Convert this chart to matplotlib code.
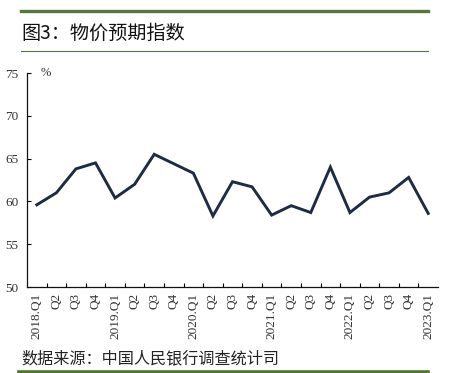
import matplotlib

matplotlib.use("Agg")
import matplotlib.pyplot as plt  # noqa: E402
from matplotlib.lines import Line2D  # noqa: E402

# price expectation index, quarterly
quarters = ["2018.Q1", "Q2", "Q3", "Q4",
            "2019.Q1", "Q2", "Q3", "Q4",
            "2020.Q1", "Q2", "Q3", "Q4",
            "2021.Q1", "Q2", "Q3", "Q4",
            "2022.Q1", "Q2", "Q3", "Q4",
            "2023.Q1"]
index_values = [59.6, 61.0, 63.8, 64.5,
                60.4, 62.0, 65.5, 64.4,
                63.3, 58.3, 62.3, 61.7,
                58.4, 59.5, 58.7, 64.0,
                58.7, 60.5, 61.0, 62.8,
                58.6]
y_ticks = [50, 55, 60, 65, 70, 75]

title_text = "图3：物价预期指数"
source_text = "数据来源：中国人民银行调查统计司"

W, H = 449, 373
CJK = ["Noto Sans CJK SC", "DejaVu Sans"]
SERIF = "Liberation Serif"
GREEN = "#56773c"
LINE_COLOR = "#1e2b44"

fig = plt.figure(figsize=(W / 100, H / 100), dpi=100)


def fx(px):
    return px / W


def fy(py):
    return 1 - py / H


# decorative frame lines of the report figure
fig.add_artist(Line2D([fx(21), fx(428)], [fy(10.5), fy(10.5)], color=GREEN,
                      linewidth=2.4, transform=fig.transFigure))
fig.add_artist(Line2D([fx(21), fx(428)], [fy(51), fy(51)], color=GREEN,
                      linewidth=0.8, transform=fig.transFigure))
fig.add_artist(Line2D([fx(19), fx(428)], [fy(371.5), fy(371.5)], color="#4c7a2c",
                      linewidth=2.6, transform=fig.transFigure))

fig.text(fx(21), fy(33), title_text, family=CJK, fontsize=13.8,
         color="#111111", ha="left", va="center")
fig.text(fx(21), fy(359), source_text, family=CJK, fontsize=11.6,
         color="#222222", ha="left", va="center")

ax = fig.add_axes([fx(27), fy(287), fx(438) - fx(27), fy(73) - fy(287)])
x = list(range(len(quarters)))
ax.plot(x, index_values, color=LINE_COLOR, linewidth=2.1, solid_joinstyle="miter")

ax.set_xlim(-0.5, len(quarters) - 0.5)
ax.set_ylim(50, 75)
ax.set_yticks(y_ticks)
ax.set_yticklabels([str(v) for v in y_ticks], family=SERIF, fontsize=9.5,
                   color="#333333")

# category axis: ticks on boundaries, labels centred between them
ax.set_xticks([i - 0.5 for i in range(1, len(quarters))], minor=False)
ax.set_xticklabels([])
ax.set_xticks(x, minor=True)
ax.set_xticklabels(quarters, minor=True, rotation=90, family=SERIF,
                   fontsize=9.5, color="#333333")
ax.tick_params(axis="x", which="minor", length=0, pad=4)
ax.tick_params(axis="x", which="major", direction="in", length=3, width=0.8)
ax.tick_params(axis="y", direction="in", length=3, width=0.8, pad=6)

for side in ("top", "right"):
    ax.spines[side].set_visible(False)
for side in ("left", "bottom"):
    ax.spines[side].set_linewidth(0.9)
    ax.spines[side].set_color("#111111")

ax.text(0.045, 1.0, "%", transform=ax.transAxes, family=SERIF, fontsize=9,
        color="#333333", ha="center", va="center")

fig.savefig("out.png", dpi=100)
